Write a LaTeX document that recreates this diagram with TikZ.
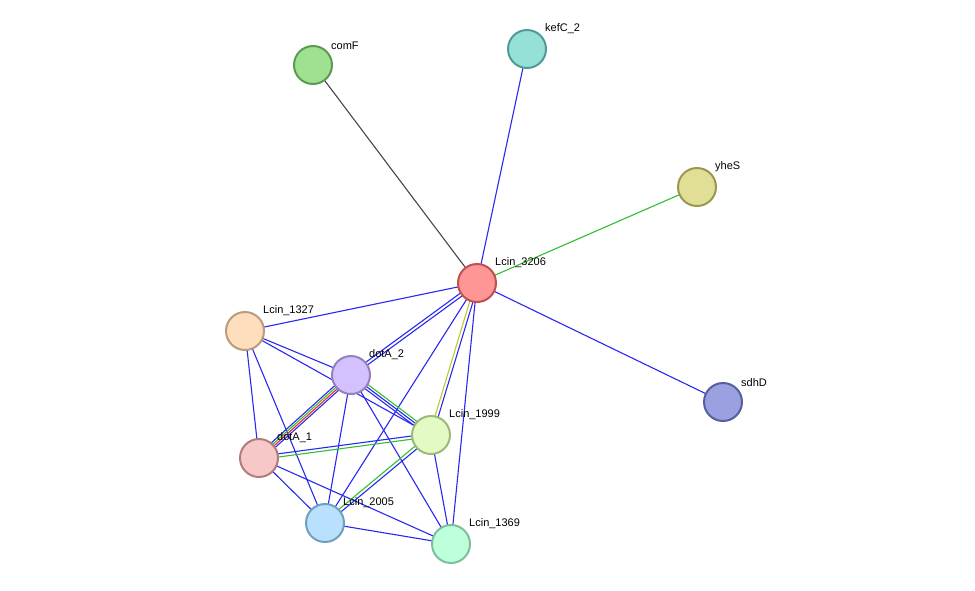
\documentclass[tikz,border=0pt]{standalone}
\usepackage{fontspec}
\setmainfont{Liberation Sans}
\usetikzlibrary{calc}
\definecolor{ebl}{RGB}{40,40,240}
\definecolor{egr}{RGB}{50,190,50}
\definecolor{ere}{RGB}{230,40,40}
\definecolor{eye}{RGB}{190,200,40}
\definecolor{egy}{RGB}{70,70,70}
\definecolor{f3206}{RGB}{255,150,150}\definecolor{d3206}{RGB}{190,80,80}
\definecolor{fcomF}{RGB}{160,225,145}\definecolor{dcomF}{RGB}{90,155,80}
\definecolor{fkefC}{RGB}{150,225,215}\definecolor{dkefC}{RGB}{80,155,150}
\definecolor{fyheS}{RGB}{225,222,150}\definecolor{dyheS}{RGB}{155,150,80}
\definecolor{fsdhD}{RGB}{155,160,225}\definecolor{dsdhD}{RGB}{85,95,160}
\definecolor{f1327}{RGB}{255,222,190}\definecolor{d1327}{RGB}{185,155,125}
\definecolor{fdotAb}{RGB}{210,192,255}\definecolor{ddotAb}{RGB}{150,128,190}
\definecolor{f1999}{RGB}{228,250,195}\definecolor{d1999}{RGB}{155,185,120}
\definecolor{fdotAa}{RGB}{248,200,200}\definecolor{ddotAa}{RGB}{175,125,125}
\definecolor{f2005}{RGB}{185,225,255}\definecolor{d2005}{RGB}{110,160,190}
\definecolor{f1369}{RGB}{190,255,220}\definecolor{d1369}{RGB}{125,190,155}
\tikzset{
  prot/.style n args={2}{circle,minimum size=38pt,inner sep=0pt,line width=2pt,fill=#1,draw=#2},
  lbl/.style={font=\fontsize{11}{13}\selectfont,anchor=south west,inner sep=1pt},
  edge/.style={line width=1.1pt}
}
% offset edge between two nodes
\newcommand{\pedge}[4]{\draw[edge,#4] ($(#1)!#3!90:(#2)$) -- ($(#2)!#3!-90:(#1)$);}
\begin{document}
\begin{tikzpicture}[x=1pt,y=-1pt]
    	% frame
    	\useasboundingbox (0,0) rectangle (975,590);
    	% coordinates of the proteins
    	\coordinate (p3206) at (477,283);
    	\coordinate (comF) at (313,65);
    	\coordinate (kefC) at (527,49);
    	\coordinate (yheS) at (697,187);
    	\coordinate (sdhD) at (723,402);
    	\coordinate (p1327) at (245,331);
    	\coordinate (dotAb) at (351,375);
    	\coordinate (p1999) at (431,435);
    	\coordinate (dotAa) at (259,458);
    	\coordinate (p2005) at (325,523);
    	\coordinate (p1369) at (451,544);
    	% edges around Lcin_3206
    	\draw[edge,egy] (comF) -- (p3206);
    	\draw[edge,ebl] (kefC) -- (p3206);
    	\draw[edge,egr] (yheS) -- (p3206);
    	\draw[edge,ebl] (sdhD) -- (p3206);
    	\draw[edge,ebl] (p1327) -- (p3206);
    	\pedge{p3206}{dotAb}{1.6pt}{ebl}
    	\pedge{p3206}{dotAb}{-1.6pt}{ebl}
    	\pedge{p3206}{p1999}{1.6pt}{ebl}
    	\pedge{p3206}{p1999}{-1.6pt}{eye}
    	\draw[edge,ebl] (p2005) -- (p3206);
    	\draw[edge,ebl] (p1369) -- (p3206);
    	% edges in the cluster
    	\draw[edge,ebl] (p1327) -- (dotAb);
    	\draw[edge,ebl] (p1327) -- (p1999);
    	\draw[edge,ebl] (p1327) -- (dotAa);
    	\draw[edge,ebl] (p1327) -- (p2005);
    	\pedge{dotAb}{dotAa}{3pt}{ebl}
    	\pedge{dotAb}{dotAa}{1pt}{ere}
    	\pedge{dotAb}{dotAa}{-1pt}{egr}
    	\pedge{dotAb}{dotAa}{-3pt}{ebl}
    	\pedge{dotAb}{p1999}{2.5pt}{egr}
    	\pedge{dotAb}{p1999}{0pt}{ebl}
    	\pedge{dotAb}{p1999}{-2.5pt}{ebl}
    	\draw[edge,ebl] (dotAb) -- (p2005);
    	\draw[edge,ebl] (dotAb) -- (p1369);
    	\pedge{dotAa}{p1999}{-1.6pt}{egr}
    	\pedge{dotAa}{p1999}{1.6pt}{ebl}
    	\draw[edge,ebl] (dotAa) -- (p2005);
    	\draw[edge,ebl] (dotAa) -- (p1369);
    	\pedge{p1999}{p2005}{1.6pt}{ebl}
    	\pedge{p1999}{p2005}{-1.6pt}{egr}
    	\draw[edge,ebl] (p1999) -- (p1369);
    	\draw[edge,ebl] (p2005) -- (p1369);
    	% proteins
    	\node[prot={f3206}{d3206}] (n3206) at (p3206) {};
    	\node[prot={fcomF}{dcomF}] (ncomF) at (comF) {};
    	\node[prot={fkefC}{dkefC}] (nkefC) at (kefC) {};
    	\node[prot={fyheS}{dyheS}] (nyheS) at (yheS) {};
    	\node[prot={fsdhD}{dsdhD}] (nsdhD) at (sdhD) {};
    	\node[prot={f1327}{d1327}] (n1327) at (p1327) {};
    	\node[prot={fdotAb}{ddotAb}] (ndotAb) at (dotAb) {};
    	\node[prot={f1999}{d1999}] (n1999) at (p1999) {};
    	\node[prot={fdotAa}{ddotAa}] (ndotAa) at (dotAa) {};
    	\node[prot={f2005}{d2005}] (n2005) at (p2005) {};
    	\node[prot={f1369}{d1369}] (n1369) at (p1369) {};
    	% labels
    	\node[lbl] at ($(n3206)+(17,-14)$) {Lcin\_3206};
    	\node[lbl] at ($(ncomF)+(17,-14)$) {comF};
    	\node[lbl] at ($(nkefC)+(17,-14)$) {kefC\_2};
    	\node[lbl] at ($(nyheS)+(17,-14)$) {yheS};
    	\node[lbl] at ($(nsdhD)+(17,-14)$) {sdhD};
    	\node[lbl] at ($(n1327)+(17,-14)$) {Lcin\_1327};
    	\node[lbl] at ($(ndotAb)+(17,-14)$) {dotA\_2};
    	\node[lbl] at ($(n1999)+(17,-14)$) {Lcin\_1999};
    	\node[lbl] at ($(ndotAa)+(17,-14)$) {dotA\_1};
    	\node[lbl] at ($(n2005)+(17,-14)$) {Lcin\_2005};
    	\node[lbl] at ($(n1369)+(17,-14)$) {Lcin\_1369};
\end{tikzpicture}
\end{document}
